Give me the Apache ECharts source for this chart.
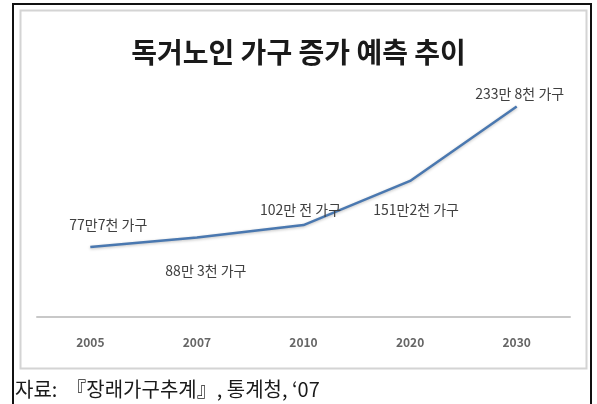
<!DOCTYPE html>
<html>
<head>
<meta charset="utf-8">
<script src="https://cdn.jsdelivr.net/npm/echarts@6/dist/echarts.min.js"></script>
<style>
html,body{margin:0;padding:0;background:#fff;}
#chart{width:597px;height:404px;}
</style>
</head>
<body>
<div id="chart"></div>
<script>
const categories = ['2005', '2007', '2010', '2020', '2030'];
const households = [77.7, 88.3, 102.1, 151.2, 233.8]; // 만 가구
const pointLabels = ['77만7천 가구', '88만 3천 가구', '102만 전 가구', '151만2천 가구', '233만 8천 가구'];
const labelOffsets = [[18, -22], [9, 33], [-3, -15], [6, 29], [3, -13]];

const chart = echarts.init(document.getElementById('chart'), null, {renderer: 'canvas'});
const FONT = '"Noto Sans CJK KR", "Noto Sans", sans-serif';

chart.setOption({
  animation: false,
  backgroundColor: '#fff',
  title: [{
    text: '독거노인 가구 증가 예측 추이',
    left: 'center',
    top: 33,
    textStyle: {fontFamily: FONT, fontSize: 28, fontWeight: 'bold', color: '#1a1a1a'}
  }, {
    text: '자료:  『장래가구추계』, 통계청, \u201807',
    left: 10,
    top: 374,
    textStyle: {fontFamily: FONT, fontSize: 20, fontWeight: 'normal', color: '#1a1a1a'}
  }],
  graphic: [
    {type: 'rect', shape: {x: 13, y: 4, width: 578, height: 402}, style: {fill: 'none', stroke: '#111', lineWidth: 2}, silent: true},
    {type: 'rect', shape: {x: 20.5, y: 10.5, width: 566, height: 358}, style: {fill: 'none', stroke: '#d4d4d4', lineWidth: 2}, silent: true}
  ],
  grid: {left: 37, right: 27, top: 92, bottom: 87},
  xAxis: {
    type: 'category',
    data: categories,
    boundaryGap: true,
    axisLine: {lineStyle: {color: '#c8c8c8', width: 2}},
    axisTick: {show: false},
    axisLabel: {color: '#666666', fontFamily: FONT, fontSize: 12, fontWeight: 'bold', margin: 19}
  },
  yAxis: {
    type: 'value',
    min: 0,
    max: 250,
    show: false,
    splitLine: {show: false}
  },
  series: [{
    type: 'line',
    data: households.map((v, i) => ({
      value: v,
      label: {
        show: true,
        formatter: pointLabels[i],
        position: 'inside',
        offset: labelOffsets[i]
      }
    })),
    symbol: 'circle',
    symbolSize: 2,
    showSymbol: true,
    itemStyle: {color: 'rgba(0,0,0,0)'},
    lineStyle: {color: '#4A78B0', width: 2.5, shadowColor: 'rgba(0,0,0,0.25)', shadowBlur: 3, shadowOffsetY: 1},
    label: {show: true, fontFamily: FONT, fontSize: 14, color: '#404040'}
  }]
});
</script>
</body>
</html>
